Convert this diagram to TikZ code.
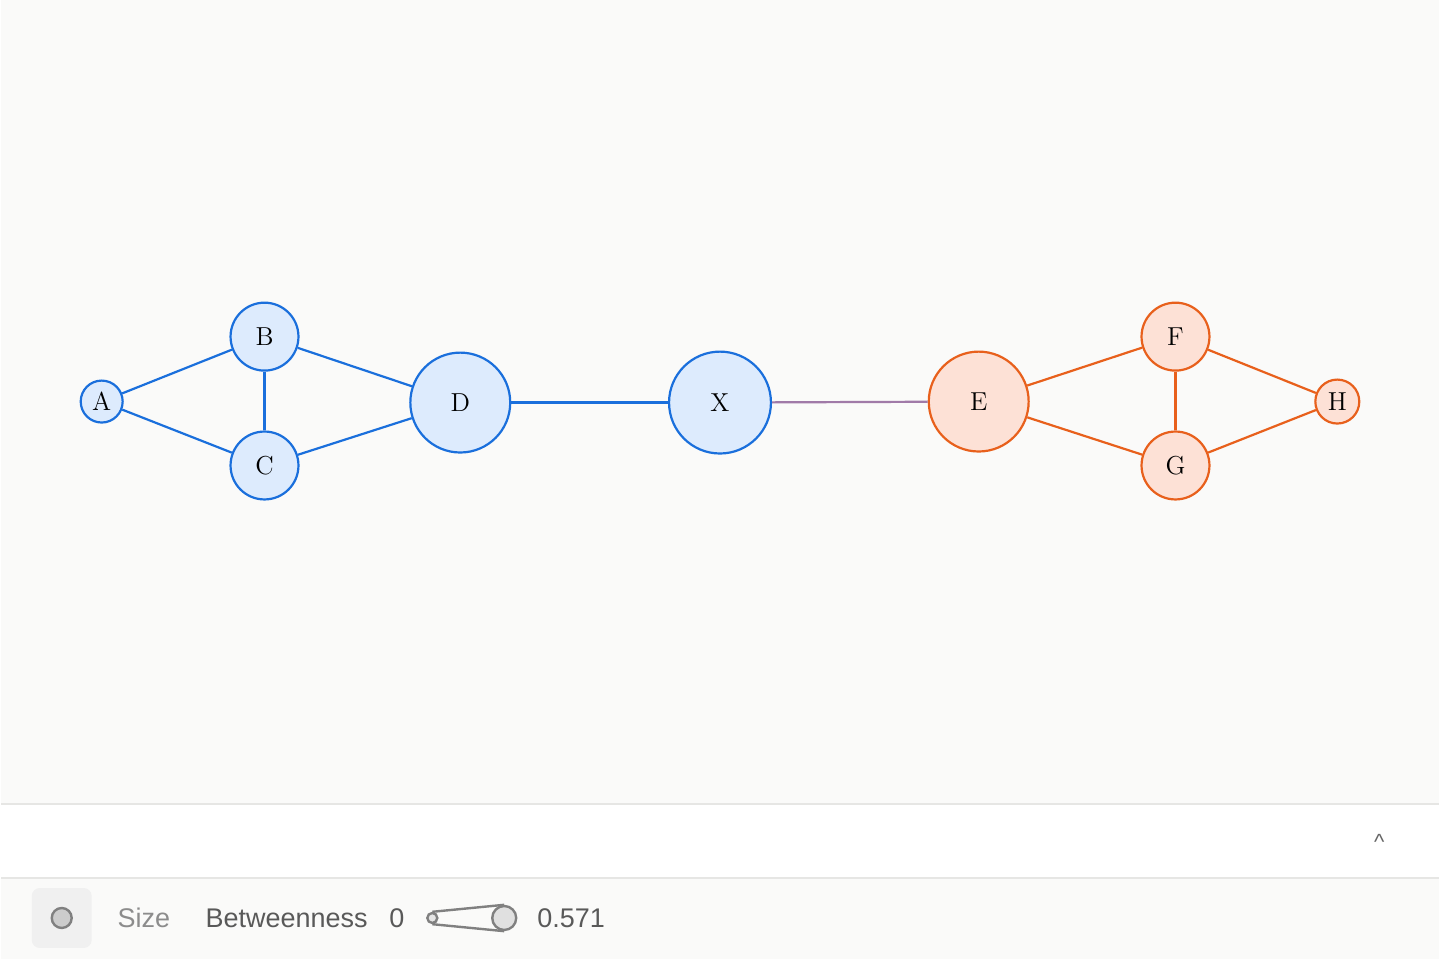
\documentclass[tikz,border=0pt]{standalone}
\usepackage{fontspec}
\setsansfont{Liberation Sans}
\usetikzlibrary{positioning}
\definecolor{bluel}{HTML}{1A6FDC}
\definecolor{bluef}{HTML}{DDEBFD}
\definecolor{orgl}{HTML}{E8601C}
\definecolor{orgf}{HTML}{FDE1D6}
\definecolor{mixl}{HTML}{A07AA8}
\definecolor{pagebg}{HTML}{FAFAF9}
\definecolor{barline}{HTML}{E6E6E4}
\tikzset{
  vtx/.style={circle, draw, line width=1.1pt, inner sep=0pt, font=\fontsize{13}{15}\selectfont},
  bv/.style={vtx, draw=bluel, fill=bluef},
  ov/.style={vtx, draw=orgl, fill=orgf},
  be/.style={draw=bluel, line width=1.1pt},
  oe/.style={draw=orgl, line width=1.1pt},
  ui/.style={font=\sffamily\fontsize{13.5}{16}\selectfont, anchor=west}
}
\begin{document}
\begin{tikzpicture}[x=0.5pt, y=-0.5pt]
  \fill[pagebg] (0,0) rectangle (1440,960);
  \fill[white] (0,805) rectangle (1440,879);
  \draw[barline, line width=0.8pt] (0,805) -- (1440,805) (0,879) -- (1440,879);

  \node[bv, minimum size=21pt] (A) at (101,402) {A};
  \node[bv, minimum size=34pt] (B) at (264,337) {B};
  \node[bv, minimum size=34pt] (C) at (264,466) {C};
  \node[bv, minimum size=50pt] (D) at (460,403) {D};
  \node[bv, minimum size=51pt] (X) at (720,403) {X};
  \node[ov, minimum size=50pt] (E) at (979,402) {E};
  \node[ov, minimum size=34pt] (F) at (1176,337) {F};
  \node[ov, minimum size=34pt] (G) at (1176,466) {G};
  \node[ov, minimum size=22pt] (H) at (1338,402) {H};

  \draw[be] (A) -- (B);
  \draw[be] (A) -- (C);
  \draw[be] (B) -- (C);
  \draw[be] (B) -- (D);
  \draw[be] (C) -- (D);
  \draw[be] (D) -- (X);
  \draw[mixl, line width=1.1pt] (X) -- (E);
  \draw[oe] (E) -- (F);
  \draw[oe] (E) -- (G);
  \draw[oe] (F) -- (G);
  \draw[oe] (F) -- (H);
  \draw[oe] (G) -- (H);

  % bottom bar
  \node[draw=none, fill=black!6, rounded corners=4pt, minimum size=30pt] (btn) at (61,919) {};
  \node[circle, draw=black!50, fill=black!20, line width=1.2pt, minimum size=10pt, inner sep=0pt] (dot) at (btn) {};
  \node[ui, text=black!45] (size) at (110,919) {Size};
  \node[ui, text=black!65] (btw) at (198,919) {Betweenness};
  \node[ui, text=black!65] (lo) at (382,919) {0};
  \node[circle, draw=black!50, fill=black!10, line width=1.2pt, minimum size=5pt, inner sep=0pt] (s1) at (432,919) {};
  \node[circle, draw=black!50, fill=black!12, line width=1.2pt, minimum size=12pt, inner sep=0pt] (s2) at (504,919) {};
  \draw[black!50, line width=1.2pt, fill=black!8] (s1.north) -- (s2.north) (s1.south) -- (s2.south);
  \node[ui, text=black!65] (hi) at (530,919) {0.571};
  \node[font=\sffamily\fontsize{11}{12}\selectfont, text=black!60] (chev) at (1380,843) {\textasciicircum};
\end{tikzpicture}
\end{document}
